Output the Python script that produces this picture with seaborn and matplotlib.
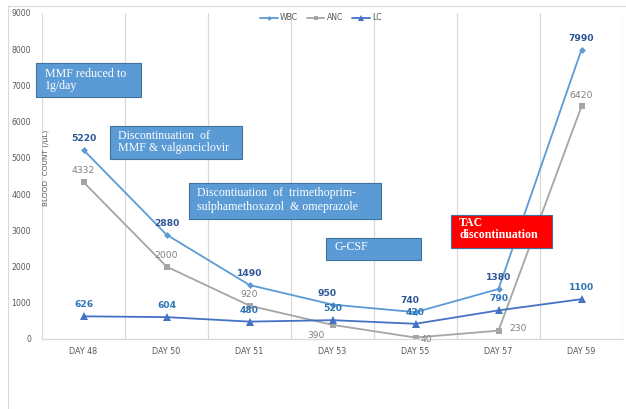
import matplotlib
matplotlib.use("Agg")
import matplotlib.pyplot as plt
import seaborn as sns
import pandas as pd
from matplotlib.patches import Rectangle
from matplotlib.lines import Line2D

days = ["DAY 48", "DAY 50", "DAY 51", "DAY 53", "DAY 55", "DAY 57", "DAY 59"]
wbc = [5220, 2880, 1490, 950, 740, 1380, 7990]
anc = [4332, 2000, 920, 390, 40, 230, 6420]
lc = [626, 604, 480, 520, 420, 790, 1100]
y_ticks = list(range(0, 9001, 1000))

W, H = 626, 409
sns.set_theme(style="white")
plt.rcParams['font.family'] = ['DejaVu Sans']

fig = plt.figure(figsize=(W / 100, H / 100), dpi=100)
ax = fig.add_axes([42 / W, 1 - 339 / H, (623 - 42) / W, (339 - 13) / H])

df = pd.DataFrame({"x": range(len(days)), "WBC": wbc, "ANC": anc, "LC": lc})
c_wbc, c_anc, c_lc = "#5b9bd5", "#a5a5a5", "#4472c4"

sns.lineplot(data=df, x="x", y="WBC", ax=ax, color=c_wbc, lw=1.3, marker="D", markersize=3.5,
             markeredgewidth=0)
sns.lineplot(data=df, x="x", y="ANC", ax=ax, color=c_anc, lw=1.3, marker="s", markersize=5,
             markeredgewidth=0)
sns.lineplot(data=df, x="x", y="LC", ax=ax, color=c_lc, lw=1.3, marker="^", markersize=5.5,
             markeredgewidth=0)

ax.set_xlim(-0.5, len(days) - 0.5)
ax.set_ylim(0, 9000)
ax.set_yticks(y_ticks)
ax.set_yticklabels([str(v) for v in y_ticks], fontsize=5.6, color="#595959")
ax.set_xticks(range(len(days)))
ax.set_xticklabels(days, fontsize=5.8, color="#595959")
ax.tick_params(axis="both", length=0)
ax.tick_params(axis="y", pad=8)
ax.tick_params(axis="x", pad=6)
ax.set_xlabel("")
ax.set_ylabel("")
for b in [i - 0.5 for i in range(len(days) + 1)]:
    ax.axvline(b, color="#d9d9d9", lw=0.9, zorder=0)
for s in ["top", "right", "left"]:
    ax.spines[s].set_visible(False)
ax.spines["bottom"].set_color("#d9d9d9")
ax.spines["bottom"].set_linewidth(0.9)

fig.text(46 / W, 1 - 168 / H, "BLOOD  COUNT (/µL)", rotation=90, fontsize=5.3,
         color="#595959", ha="center", va="center")

# data labels
wbc_off = [(0, 5), (0, 5), (0, 5), (-4, 5), (-4, 5), (0, 5), (0, 5)]
anc_off = [(0, 5), (0, 5), (0, 5), (-12, -11), (8, -5), (14, -2), (0, 5)]
lc_off = [(0, 5), (0, 5), (0, 5), (0, 5), (0, 5), (0, 5), (0, 5)]
for i, v in enumerate(wbc):
    ax.annotate(str(v), (i, v), xytext=wbc_off[i], textcoords="offset points", ha="center",
                va="bottom", fontsize=6.6, fontweight="bold", color="#2f5597")
for i, v in enumerate(anc):
    ax.annotate(str(v), (i, v), xytext=anc_off[i], textcoords="offset points", ha="center",
                va="bottom", fontsize=6.6, color="#7f7f7f")
for i, v in enumerate(lc):
    ax.annotate(str(v), (i, v), xytext=lc_off[i], textcoords="offset points", ha="center",
                va="bottom", fontsize=6.6, fontweight="bold", color="#2e75b6")

# legend
handles = [Line2D([], [], color=c_wbc, marker="D", markersize=2.5, lw=1.3, markeredgewidth=0),
           Line2D([], [], color=c_anc, marker="s", markersize=3.5, lw=1.3, markeredgewidth=0),
           Line2D([], [], color=c_lc, marker="^", markersize=4, lw=1.3, markeredgewidth=0)]
fig.legend(handles, ["WBC", "ANC", "LC"], loc="center", bbox_to_anchor=(321 / W, 1 - 18 / H),
           ncol=3, frameon=False, fontsize=5.6, handlelength=2.2, handletextpad=0.3,
           columnspacing=1.2, labelcolor="#595959")

# annotation boxes
serif = ["Liberation Serif", "DejaVu Serif"]
def box(x0, y0, x1, y1, color, edge):
    fig.add_artist(Rectangle((x0 / W, 1 - y1 / H), (x1 - x0) / W, (y1 - y0) / H,
                             transform=fig.transFigure, facecolor=color, edgecolor=edge,
                             lw=0.8, zorder=5))

def btext(x, y, s, bold=False, size=8.6, ls=1.0):
    fig.text(x / W, 1 - y / H, s, ha="left", va="center", color="white", fontsize=size,
             family=serif, fontweight="bold" if bold else "normal", zorder=6, linespacing=ls)

blue, bedge = "#5b9bd5", "#41719c"
box(36, 63, 141, 97, blue, bedge)
btext(45, 80, "MMF reduced to\n1g/day")
box(110, 126, 242, 159, blue, bedge)
btext(118, 142, "Discontinuation  of\nMMF & valganciclovir")
box(189, 183, 381, 219, blue, bedge)
btext(197, 200, "Discontiuation  of  trimethoprim-\nsulphamethoxazol  & omeprazole", ls=1.3)
box(326, 238, 421, 260, blue, bedge)
btext(334, 247, "G-CSF")
box(451, 215, 552, 248, "#ff0000", "#41719c")
btext(459, 229, "TAC\ndiscontinuation", bold=True)

# outer frame
fig.add_artist(Line2D([8 / W, 8 / W], [0, 1 - 6 / H], transform=fig.transFigure,
                      color="#d9d9d9", lw=0.8))
fig.add_artist(Line2D([8 / W, 1], [1 - 6 / H, 1 - 6 / H], transform=fig.transFigure,
                      color="#d9d9d9", lw=0.8))

fig.savefig("out.png", dpi=100)
